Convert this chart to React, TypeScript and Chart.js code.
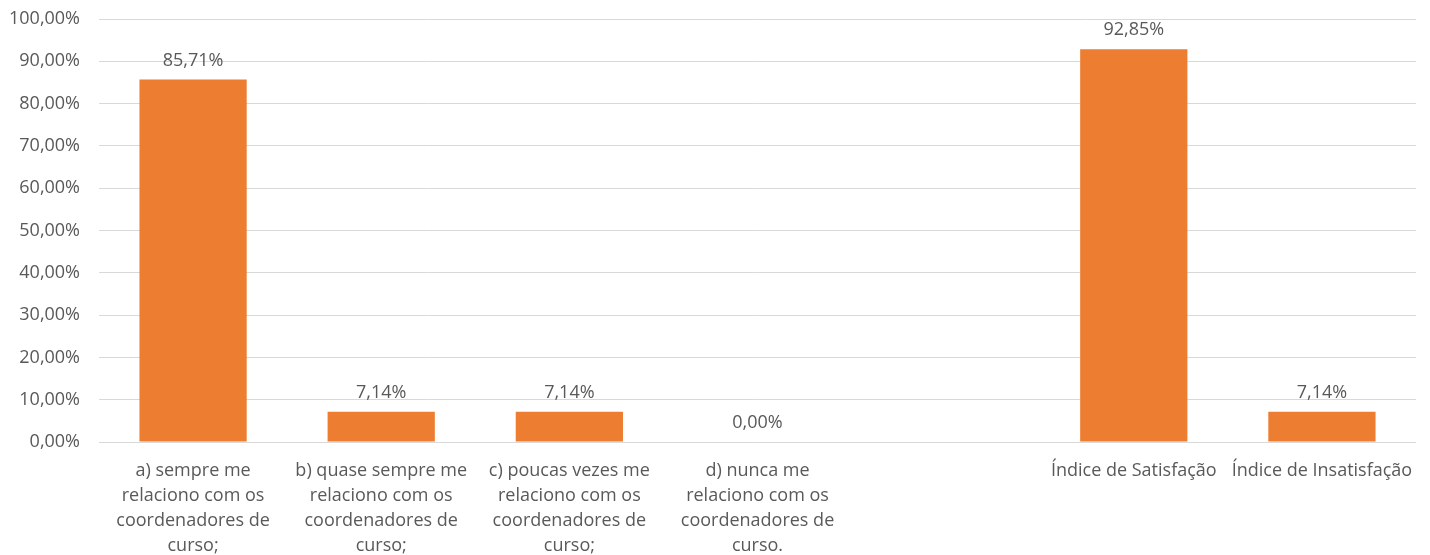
import React, { useEffect, useRef } from "react";
import { Chart, registerables } from "chart.js";

Chart.register(...registerables);

const categories: (string | string[])[] = [
  ["a) sempre me", "relaciono com os", "coordenadores de", "curso;"],
  ["b) quase sempre me", "relaciono com os", "coordenadores de", "curso;"],
  ["c) poucas vezes me", "relaciono com os", "coordenadores de", "curso;"],
  ["d) nunca me", "relaciono com os", "coordenadores de", "curso."],
  "",
  "Índice de Satisfação",
  "Índice de Insatisfação",
];
const values: (number | null)[] = [85.71, 7.14, 7.14, 0, null, 92.85, 7.14];

const fmt = (v: number) => v.toFixed(2).replace(".", ",") + "%";

const FONT = "Open Sans, sans-serif";
const TEXT = "#595959";
const SIZE = 18;

const labelPlugin = {
  id: "barLabels",
  afterDatasetsDraw(chart: any) {
    const ctx = chart.ctx;
    const meta = chart.getDatasetMeta(0);
    ctx.save();
    ctx.font = `${SIZE}px ${FONT}`;
    ctx.fillStyle = TEXT;
    ctx.textAlign = "center";
    ctx.textBaseline = "middle";
    meta.data.forEach((bar: any, i: number) => {
      const v = values[i];
      if (v === null || v === undefined) return;
      ctx.fillText(fmt(v), bar.x, bar.y - 19);
    });
    ctx.restore();
  },
};

export default function App() {
  const ref = useRef<HTMLCanvasElement>(null);
  useEffect(() => {
    document.body.style.margin = "0";
    const chart = new Chart(ref.current!, {
      type: "bar",
      data: {
        labels: categories,
        datasets: [
          {
            data: values,
            backgroundColor: "#ED7D31",
            barPercentage: 0.57,
            categoryPercentage: 1,
          },
        ],
      },
      options: {
        animation: false,
        responsive: false,
        layout: { padding: { top: 19, right: 14, left: 0, bottom: 0 } },
        plugins: { legend: { display: false }, tooltip: { enabled: false } },
        scales: {
          x: {
            grid: { display: false, drawTicks: false },
            border: { display: false },
            ticks: {
              color: TEXT,
              font: { family: FONT, size: SIZE, lineHeight: 1.4 },
              maxRotation: 0,
              autoSkip: false,
              padding: 16,
            },
            afterFit(scale: any) {
              scale.height = 113;
              scale.paddingLeft = 0;
              scale.paddingRight = 0;
            },
          },
          y: {
            min: 0,
            max: 100,
            grid: { color: "#d9d9d9", lineWidth: 1, drawTicks: false },
            border: { display: false },
            ticks: {
              stepSize: 10,
              color: TEXT,
              font: { family: FONT, size: SIZE },
              padding: 19,
              callback: (v: any) => fmt(Number(v)),
            },
            afterFit(scale: any) {
              scale.width = 99;
              scale.paddingTop = 0;
              scale.paddingBottom = 0;
            },
          },
        },
      },
      plugins: [labelPlugin],
    });
    return () => chart.destroy();
  }, []);
  return (
    <div style={{ width: 1430, height: 555 }}>
      <canvas ref={ref} width={1430} height={555} />
    </div>
  );
}
